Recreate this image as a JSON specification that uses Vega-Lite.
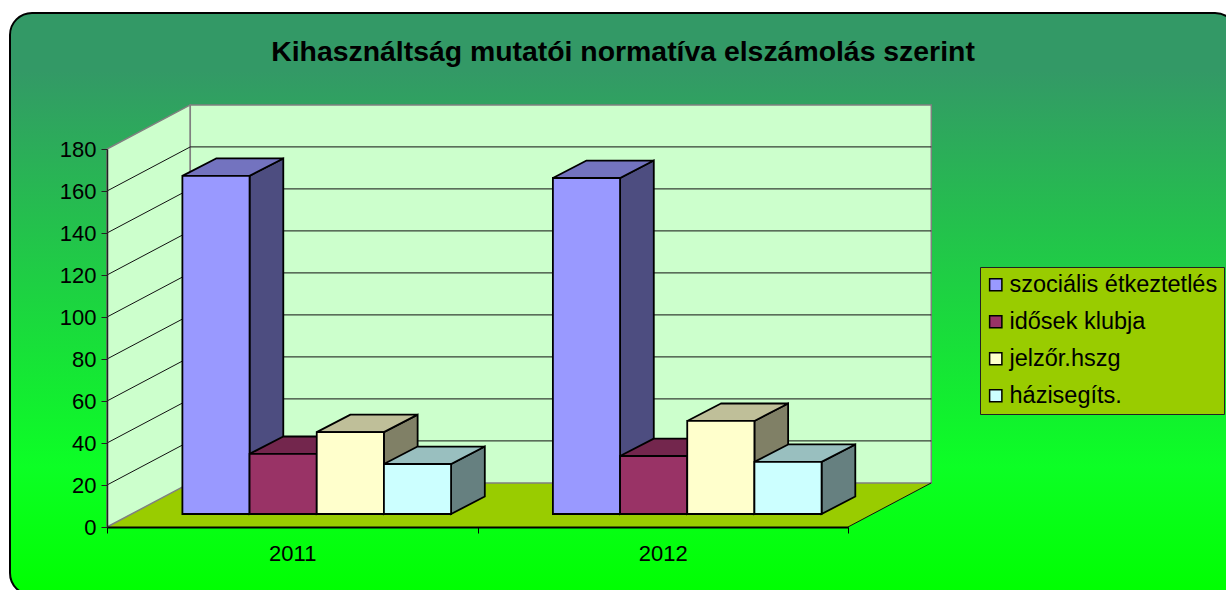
{
"$schema":"https://vega.github.io/schema/vega-lite/v6.json",
"width":741,"height":378,
"autosize":{"type":"none"},
"padding":{"left":107,"top":149,"right":378,"bottom":63},
"background":"white",
"title":{"text":"Kihasználtság mutatói normatíva elszámolás szerint","anchor":"middle","frame":"group","dx":145.5,"offset":-55,"fontSize":28.4,"fontWeight":"bold","font":"Liberation Sans","color":"black"},
"config":{"font":"Liberation Sans","view":{"stroke":null}},
"data":{"values":[
{"year":2011,"series":"szociális étkeztetlés","value":161},
{"year":2011,"series":"idősek klubja","value":28.6},
{"year":2011,"series":"jelzőr.hszg","value":39},
{"year":2011,"series":"házisegíts.","value":23.8},
{"year":2012,"series":"szociális étkeztetlés","value":160},
{"year":2012,"series":"idősek klubja","value":27.6},
{"year":2012,"series":"jelzőr.hszg","value":44.3},
{"year":2012,"series":"házisegíts.","value":24.8}
]},
"transform":[
{"calculate":"indexof(['szociális étkeztetlés','idősek klubja','jelzőr.hszg','házisegíts.'],datum.series)","as":"s"},
{"calculate":"datum.year-2011+0.2035+datum.s*0.1813","as":"x0"},
{"calculate":"datum.x0+0.1813","as":"x1"},
{"calculate":"6.2","as":"base"},
{"calculate":"datum.base+datum.value","as":"top"},
{"calculate":"[0,1]","as":"k"},
{"flatten":["k"]},
{"calculate":"datum.x1+datum.k*0.091","as":"sx"},
{"calculate":"datum.base+datum.k*8.3","as":"sb"},
{"calculate":"datum.top+datum.k*8.3","as":"st"},
{"calculate":"datum.x0+datum.k*0.091","as":"tx0"},
{"calculate":"datum.x1+datum.k*0.091","as":"tx1"}
],
"resolve":{"scale":{"color":"independent"}},
"layer":[
{"data":{"values":[{"frame":1}]},
 "mark":{"type":"rect","cornerRadius":22,"stroke":"black","strokeWidth":2,"fill":{"gradient":"linear","x1":0,"y1":0,"x2":0,"y2":1,"stops":[{"offset":0,"color":"#339966"},{"offset":0.1,"color":"#339966"},{"offset":0.78,"color":"#0cff25"},{"offset":1,"color":"#00ff00"}]}},
 "encoding":{
  "x":{"datum":-0.2618,"type":"quantitative","scale":{"domain":[0,2],"nice":false,"zero":false},"axis":{"title":null,"values":[0,0.5,1,1.5,2],"grid":false,"zindex":1,"domainColor":"black","domainWidth":2,"tickColor":"black","tickSize":6,"tickWidth":1,"tickOpacity":{"condition":{"test":"datum.value==0.5||datum.value==1.5","value":0},"value":1},"labelExpr":"datum.value==0.5?'2011':datum.value==1.5?'2012':''","labelFontSize":22,"labelColor":"black","labelPadding":10,"labelOverlap":false,"labelFlush":false,"labelFont":"Liberation Sans"}},
  "x2":{"datum":3.05},
  "y":{"datum":244.8,"type":"quantitative","scale":{"domain":[0,180],"nice":false,"zero":false},"axis":{"title":null,"values":[0,20,40,60,80,100,120,140,160,180],"grid":false,"zindex":1,"domainColor":"#222222","domainWidth":1.5,"tickColor":"#222222","tickSize":6,"tickWidth":1,"labelFontSize":22,"labelColor":"black","labelPadding":5,"labelOverlap":false,"labelFlush":false,"labelFont":"Liberation Sans"}},
  "y2":{"datum":-32.4}
 }},
{"data":{"values":[{"depth":0},{"depth":1}]},
 "transform":[{"calculate":"datum.depth*21","as":"yb"},{"calculate":"datum.depth*0.2248","as":"xa"},{"calculate":"2+datum.depth*0.2248","as":"xb"}],
 "mark":{"type":"area","orient":"horizontal","fill":"#99cc00"},
 "encoding":{"y":{"field":"yb","type":"quantitative"},"x":{"field":"xa","type":"quantitative"},"x2":{"field":"xb"}}},
{"data":{"values":[{"depth":0},{"depth":1}]},
 "transform":[{"calculate":"datum.depth*21","as":"yb"},{"calculate":"180+datum.depth*21","as":"yt"},{"calculate":"datum.depth*0.2248","as":"xa"}],
 "mark":{"type":"area","orient":"vertical","fill":"#ccffcc","stroke":"#808080","strokeWidth":1.5},
 "encoding":{"x":{"field":"xa","type":"quantitative"},"y":{"field":"yb","type":"quantitative"},"y2":{"field":"yt"}}},
{"data":{"values":[{"wall":"back"}]},
 "mark":{"type":"rect","fill":"#ccffcc","stroke":"#808080","strokeWidth":1.5},
 "encoding":{"x":{"datum":0.2248,"type":"quantitative"},"x2":{"datum":2.2248},"y":{"datum":21,"type":"quantitative"},"y2":{"datum":201}}},
{"data":{"values":[{"v":20},{"v":40},{"v":60},{"v":80},{"v":100},{"v":120},{"v":140},{"v":160}]},
 "transform":[{"calculate":"datum.v+21","as":"vb"}],
 "mark":{"type":"rule","color":"#111111","strokeWidth":1},
 "encoding":{"x":{"datum":0.2248,"type":"quantitative"},"x2":{"datum":2.2248},"y":{"field":"vb","type":"quantitative"}}},
{"data":{"values":[{"v":20},{"v":40},{"v":60},{"v":80},{"v":100},{"v":120},{"v":140},{"v":160}]},
 "transform":[{"calculate":"datum.v+21","as":"vb"}],
 "mark":{"type":"rule","color":"#111111","strokeWidth":1},
 "encoding":{"x":{"datum":0,"type":"quantitative"},"x2":{"datum":0.2248},"y":{"field":"v","type":"quantitative"},"y2":{"field":"vb"}}},
{"data":{"values":[{"edge":"floor"}]},
 "mark":{"type":"rule","color":"#111111","strokeWidth":1},
 "encoding":{"x":{"datum":2,"type":"quantitative"},"x2":{"datum":2.2248},"y":{"datum":0,"type":"quantitative"},"y2":{"datum":21}}},
{"mark":{"type":"area","orient":"vertical","stroke":"black","strokeWidth":1.8,"strokeJoin":"miter"},
 "encoding":{"x":{"field":"sx","type":"quantitative"},"y":{"field":"sb","type":"quantitative"},"y2":{"field":"st"},"detail":{"field":"year"},
  "color":{"field":"series","type":"nominal","legend":null,"scale":{"domain":["szociális étkeztetlés","idősek klubja","jelzőr.hszg","házisegíts."],"range":["#4d4d80","#4d1a33","#808066","#668080"]}}}},
{"mark":{"type":"area","orient":"horizontal","stroke":"black","strokeWidth":1.8,"strokeJoin":"miter"},
 "encoding":{"y":{"field":"st","type":"quantitative"},"x":{"field":"tx0","type":"quantitative"},"x2":{"field":"tx1"},"detail":{"field":"year"},
  "color":{"field":"series","type":"nominal","legend":null,"scale":{"domain":["szociális étkeztetlés","idősek klubja","jelzőr.hszg","házisegíts."],"range":["#7373bf","#73264d","#bfbf99","#99bfbf"]}}}},
{"transform":[{"filter":"datum.k==0"}],
 "mark":{"type":"rect","stroke":"black","strokeWidth":1.8},
 "encoding":{"x":{"field":"x0","type":"quantitative"},"x2":{"field":"x1"},"y":{"field":"base","type":"quantitative"},"y2":{"field":"top"},
  "color":{"field":"series","type":"nominal","scale":{"domain":["szociális étkeztetlés","idősek klubja","jelzőr.hszg","házisegíts."],"range":["#9999ff","#993366","#ffffcc","#ccffff"]},
   "legend":{"title":null,"orient":"none","legendX":873,"legendY":118,"fillColor":"#99cc00","strokeColor":"#222222","padding":6,"symbolType":"square","symbolSize":150,"symbolOffset":-2,"symbolStrokeColor":"black","symbolStrokeWidth":1.5,"symbolOpacity":1,"labelFontSize":23.5,"labelColor":"black","labelFont":"Liberation Sans","labelLimit":400,"rowPadding":12,"labelOffset":2}}}}
]
}
